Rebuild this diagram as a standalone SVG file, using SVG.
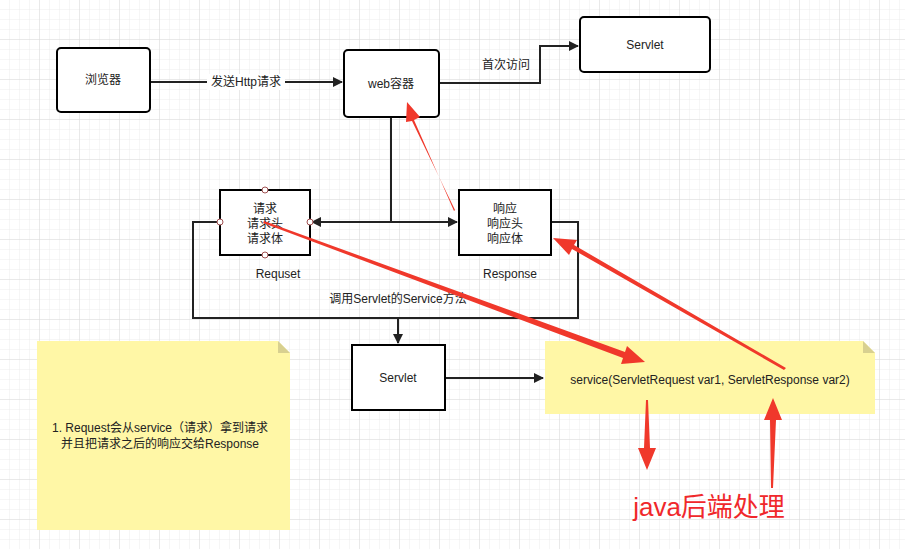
<svg xmlns="http://www.w3.org/2000/svg" width="905" height="549" viewBox="0 0 905 549">
<style>
.box{fill:#fff;stroke:#000;stroke-width:2}
.t{font-family:"Liberation Sans","Noto Sans CJK SC",sans-serif;font-size:12px;fill:#222;text-anchor:middle}
.ln{fill:none;stroke:#222;stroke-width:2}
.note{fill:#fff7a6}
.red{fill:#f0382b}
</style>
<defs>
<pattern id="g" width="10" height="10" patternUnits="userSpaceOnUse"><path d="M10 0V10H0" fill="none" stroke="#ececec" stroke-width="1"/></pattern>
<pattern id="G" width="40" height="40" patternUnits="userSpaceOnUse"><rect width="40" height="40" fill="url(#g)"/><path d="M40 0V40H0" fill="none" stroke="#dcdcdc" stroke-width="1"/></pattern>
<marker id="a" markerWidth="10" markerHeight="10" refX="9" refY="5" orient="auto" markerUnits="userSpaceOnUse"><path d="M0,0L10,5L0,10Z" fill="#222"/></marker>
<marker id="as" markerWidth="10" markerHeight="10" refX="1" refY="5" orient="auto" markerUnits="userSpaceOnUse"><path d="M10,0L0,5L10,10Z" fill="#222"/></marker>
</defs>
<rect width="905" height="549" fill="#fff"/>
<rect width="905" height="549" fill="url(#G)"/>
<g id="connectors">
<path class="ln" d="M150,82H342" marker-end="url(#a)"/>
<rect x="207" y="74" width="78" height="16" fill="#fff"/>
<text class="t" x="246" y="86">发送Http请求</text>
<path class="ln" d="M439,83H540V46H578" marker-end="url(#a)"/>
<text class="t" x="506" y="69">首次访问</text>
<path class="ln" d="M391,117V222"/>
<path class="ln" d="M312,222H457" marker-start="url(#as)" marker-end="url(#a)"/>
<path class="ln" d="M220,222H193V318H578V222H551"/>
<path class="ln" d="M398,318V343" marker-end="url(#a)"/>
<text class="t" x="398" y="303">调用Servlet的Service方法</text>
<path class="ln" d="M445,378H543" marker-end="url(#a)"/>
</g>
<g id="browser"><rect class="box" x="57" y="48" width="93" height="64" rx="4"/><text class="t" x="103" y="84">浏览器</text></g>
<g id="web"><rect class="box" x="344" y="50" width="95" height="67" rx="4"/><text class="t" x="391" y="88">web容器</text></g>
<g id="servlet1"><rect class="box" x="580" y="17" width="130" height="55" rx="4"/><text class="t" x="645" y="49">Servlet</text></g>
<g id="request"><rect class="box" x="220" y="190" width="90" height="65"/>
<text class="t" x="265" y="213">请求</text><text class="t" x="265" y="228">请求头</text><text class="t" x="265" y="243">请求体</text>
<g fill="#fff" stroke="#a05050" stroke-width="1"><circle cx="265" cy="190" r="3"/><circle cx="265" cy="255" r="3"/><circle cx="220" cy="222" r="3"/><circle cx="310" cy="222" r="3"/></g>
<text class="t" x="278" y="278">Requset</text></g>
<g id="response"><rect class="box" x="459" y="190" width="92" height="65"/>
<text class="t" x="505" y="213">响应</text><text class="t" x="505" y="228">响应头</text><text class="t" x="505" y="243">响应体</text>
<text class="t" x="510" y="278">Response</text></g>
<g id="servlet2"><rect class="box" x="352" y="345" width="93" height="65"/><text class="t" x="398" y="382">Servlet</text></g>
<g id="note1"><path class="note" d="M37,341H278L290,353V530H37Z"/><path d="M278,341V353H290Z" fill="#d8d090"/>
<text class="t" x="160" y="432">1. Request会从service（请求）拿到请求</text><text class="t" x="160" y="448">并且把请求之后的响应交给Response</text></g>
<g id="note2"><path class="note" d="M545,341H863L875,353V414H545Z"/><path d="M863,341V353H875Z" fill="#d8d090"/>
<text class="t" x="710" y="384">service(ServletRequest var1, ServletResponse var2)</text></g>
<g id="red">
<path class="red" d="M455,210L454,211L414,120L420,117L407,102L406,122L412,121Z"/>
<path class="red" d="M263,223L264,221L625,352L627,346L645,362L621,364L623,358Z"/>
<path class="red" d="M786,368L784,370L572,249L569,255L553,238L577,240L574,245Z"/>
<path class="red" d="M646,400L648,400L650,448L656,448L647,470L638,448L644,448Z"/>
<path class="red" d="M771,488L773,488L776,420L782,420L773,398L764,420L770,420Z"/>
<text x="709" y="516" font-family="Liberation Sans,Noto Sans CJK SC,sans-serif" font-size="26" fill="#f0282b" text-anchor="middle">java后端处理</text>
</g>
</svg>
